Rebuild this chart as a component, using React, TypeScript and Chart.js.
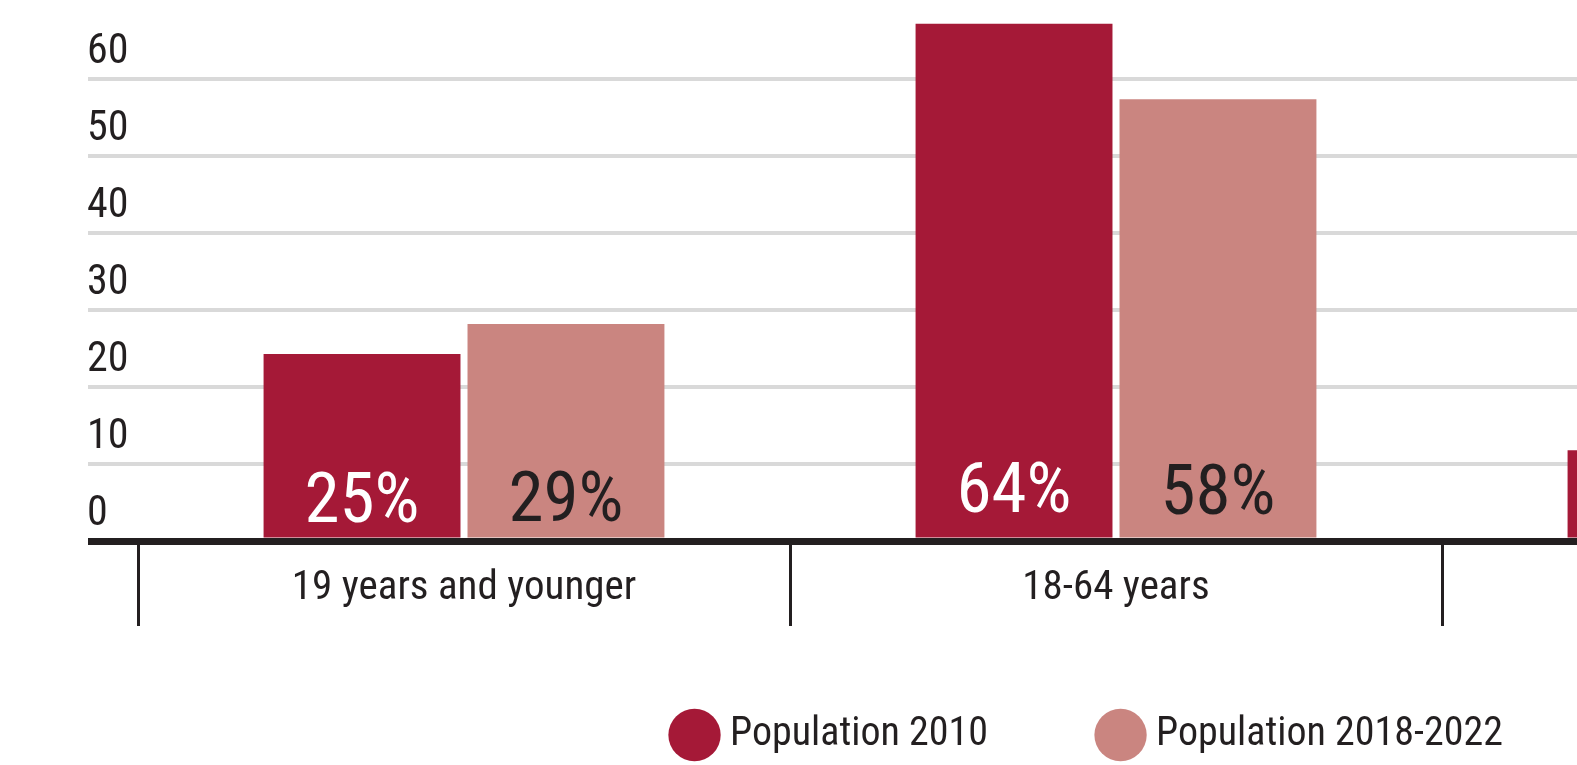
import { useEffect, useRef } from 'react';
import { Chart, registerables } from 'chart.js';

Chart.register(...registerables);

const categories = ['19 years and younger', '18-64 years', '65 years and older'];
const seriesNames = ['Population 2010', 'Population 2018-2022'];
const pop2010 = [24.3, 67.2, 11.8];
const pop2018 = [28.2, 57.4, 13.4];
const labels2010 = ['25%', '64%', '12%'];
const labels2018 = ['29%', '58%', '14%'];
const yTickValues = [0, 10, 20, 30, 40, 50, 60];

const COLOR_2010 = '#A51937';
const COLOR_2018 = '#CA8580';
const INK = '#231F20';
const GRID = '#D9D9D9';
const NARROW = '"Roboto Condensed", "Liberation Sans Narrow", "DejaVu Sans Condensed", sans-serif';

const valueLabels = [labels2010, labels2018];

const barLabelsPlugin = {
  id: 'barLabels',
  afterDatasetsDraw(chart: any) {
    const ctx = chart.ctx;
    ctx.save();
    ctx.font = `71px ${NARROW}`;
    ctx.textAlign = 'center';
    ctx.textBaseline = 'alphabetic';
    chart.data.datasets.forEach((_ds: any, di: number) => {
      const meta = chart.getDatasetMeta(di);
      meta.data.forEach((bar: any, i: number) => {
        const { x, y, base } = bar.getProps(['x', 'y', 'base'], true);
        const h = base - y;
        ctx.fillStyle = di === 0 ? '#FFFFFF' : INK;
        ctx.fillText(valueLabels[di][i], x, base - 9.7 - 0.0313 * h);
      });
    });
    ctx.restore();
  },
};

export default function App() {
  const canvasRef = useRef<HTMLCanvasElement | null>(null);

  useEffect(() => {
    if (!canvasRef.current) return;
    const zeroOr = (a: any, b: any) => (c: any) => (c.tick && c.tick.value === 0 ? a : b);
    const chart = new Chart(canvasRef.current, {
      type: 'bar',
      data: {
        labels: categories,
        datasets: [
          { label: seriesNames[0], data: pop2010, backgroundColor: COLOR_2010, borderWidth: 0 },
          { label: seriesNames[1], data: pop2018, backgroundColor: COLOR_2018, borderWidth: 0 },
        ],
      },
      options: {
        responsive: false,
        animation: false,
        events: [],
        layout: { padding: { left: 88, top: 10, right: 0, bottom: 0 } },
        datasets: {
          bar: { categoryPercentage: 0.6256, barPercentage: 0.9655 },
        },
        scales: {
          x: {
            offset: true,
            border: { display: false },
            grid: {
              offset: true,
              drawOnChartArea: false,
              drawTicks: true,
              tickLength: 85,
              color: INK,
              lineWidth: 3,
            },
            ticks: {
              mirror: true,
              padding: -72,
              color: INK,
              font: { family: NARROW, size: 41 },
              maxRotation: 0,
              minRotation: 0,
              autoSkip: false,
            },
            afterFit: (s: any) => {
              s.height = 57;
              s.paddingLeft = 0;
              s.paddingRight = 0;
            },
          },
          y: {
            min: 0,
            max: 69,
            border: { display: false },
            afterBuildTicks: (s: any) => {
              s.ticks = yTickValues.map((v) => ({ value: v }));
            },
            afterFit: (s: any) => {
              s.width = 50;
            },
            grid: {
              drawTicks: true,
              tickLength: 50,
              color: zeroOr(INK, GRID),
              lineWidth: zeroOr(7, 4),
              tickColor: zeroOr(INK, GRID),
              tickWidth: zeroOr(7, 4),
            },
            ticks: {
              mirror: true,
              padding: -51,
              labelOffset: -27,
              color: INK,
              font: { family: NARROW, size: 42 },
            },
          },
        },
        plugins: {
          tooltip: { enabled: false },
          title: { display: false },
          legend: {
            position: 'bottom',
            maxHeight: 170.5,
            labels: {
              usePointStyle: true,
              pointStyle: 'circle',
              boxWidth: 31,
              boxHeight: 37,
              padding: 117,
              color: INK,
              font: { family: NARROW, size: 40 },
            },
          },
        },
      } as any,
      plugins: [barLabelsPlugin],
    });
    return () => chart.destroy();
  }, []);

  return (
    <div
      style={{
        position: 'fixed',
        left: 0,
        top: 0,
        width: '1577px',
        height: '765px',
        overflow: 'hidden',
        background: '#FFFFFF',
      }}
    >
      <canvas ref={canvasRef} width={2094} height={765} style={{ display: 'block' }} />
    </div>
  );
}
